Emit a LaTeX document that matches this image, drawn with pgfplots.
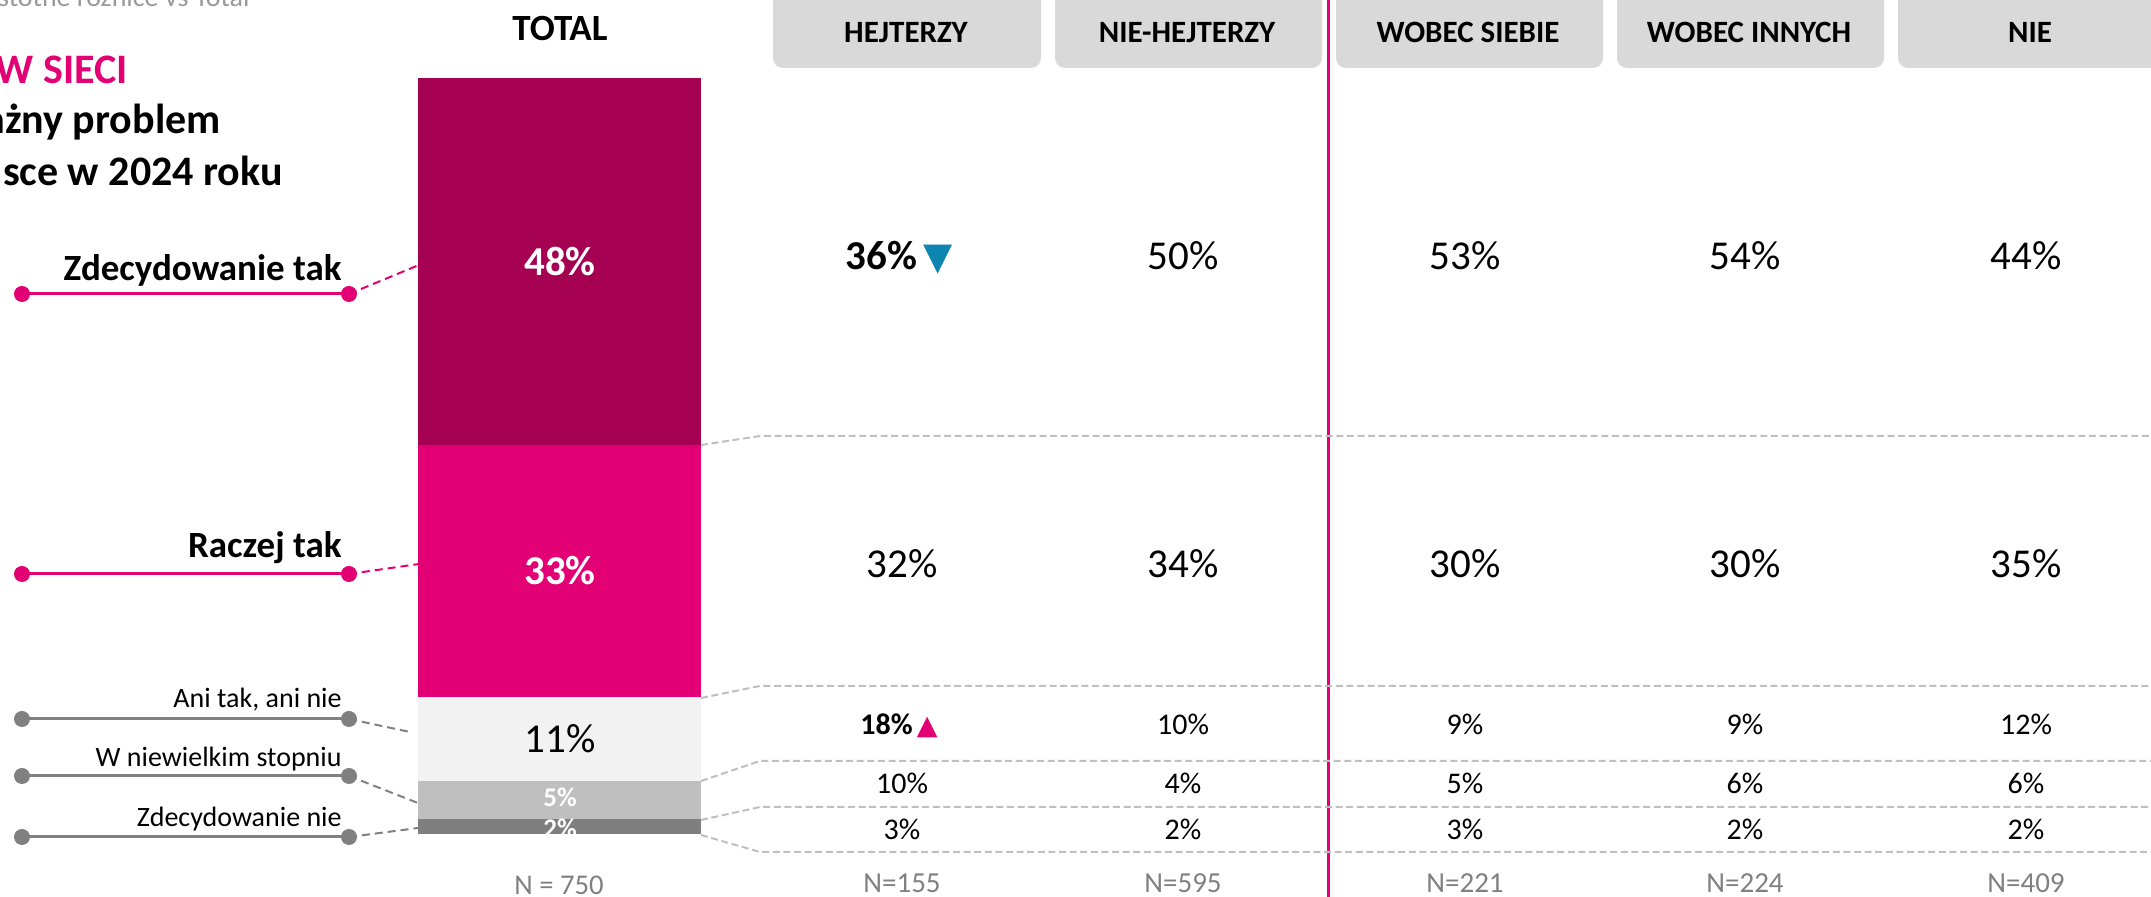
\documentclass[border=0pt]{standalone}
\usepackage{pgfplots}
\pgfplotsset{compat=1.18}
\usepackage{fontspec}
\setmainfont{Carlito}
\newfontfamily\dejavu{DejaVu Sans}
\definecolor{darkmag}{HTML}{A50052}
\definecolor{mag}{HTML}{E20074}
\definecolor{lgray}{HTML}{F2F2F2}
\definecolor{mgray}{HTML}{BFBFBF}
\definecolor{dgray}{HTML}{7F7F7F}
\definecolor{hdr}{HTML}{D9D9D9}
\definecolor{sigblue}{HTML}{0E84B0}
\definecolor{ngray}{HTML}{808080}
\newcommand\fsz[1]{\fontsize{#1}{#1}\selectfont}
\pgfplotsset{
  mycanvas/.style={width=1075.5pt, height=448.5pt, scale only axis, hide axis, clip=false, xmin=0, xmax=2151},
  mytxt/.style={draw=none, mark=none, nodes near coords, point meta=explicit symbolic,
    every node near coord/.append style={anchor=base, inner sep=0pt, outer sep=0pt, #1}},
}
\tikzset{
  hdrbox/.style={fill=hdr, rounded corners=5pt},
  rdash/.style={draw=mgray, line width=1pt, dash pattern=on 3.5pt off 1.8pt},
  ldash/.style={line width=1pt, dash pattern=on 4pt off 2.5pt},
}
\begin{document}
\begin{tikzpicture}
\useasboundingbox (0,0) rectangle (1075.5pt,448.5pt);
\begin{scope}
\clip (0,0) rectangle (1075.5pt,448.5pt);
% ---------------- stacked TOTAL bar (values in %)
\begin{axis}[mycanvas, ymin=-8.25, ymax=109.22, ybar stacked, bar width=283]
\addplot[fill=dgray, draw=none] coordinates {(559.5,2)};
\addplot[fill=mgray, draw=none] coordinates {(559.5,5)};
\addplot[fill=lgray, draw=none] coordinates {(559.5,11)};
\addplot[fill=mag, draw=none] coordinates {(559.5,33)};
\addplot[fill=darkmag, draw=none] coordinates {(559.5,48)};
\end{axis}
% ---------------- everything else, in pixel coordinates
\begin{axis}[mycanvas, ymin=0, ymax=897]
% header boxes
\path[hdrbox] (axis cs:773,829) rectangle (axis cs:1041,930);
\path[hdrbox] (axis cs:1055,829) rectangle (axis cs:1322,930);
\path[hdrbox] (axis cs:1336,829) rectangle (axis cs:1603,930);
\path[hdrbox] (axis cs:1617,829) rectangle (axis cs:1884,930);
\path[hdrbox] (axis cs:1898,829) rectangle (axis cs:2165,930);
\node[anchor=base, font=\bfseries\fsz{15.5}] at (axis cs:906,854) {HEJTERZY};
\node[anchor=base, font=\bfseries\fsz{15.5}] at (axis cs:1187,854) {NIE-HEJTERZY};
\node[anchor=base, font=\bfseries\fsz{15.5}] at (axis cs:1468,854) {WOBEC SIEBIE};
\node[anchor=base, font=\bfseries\fsz{15.5}] at (axis cs:1749,854) {WOBEC INNYCH};
\node[anchor=base, font=\bfseries\fsz{15.5}] at (axis cs:2030,854) {NIE};
\node[anchor=base, font=\bfseries\fsz{18.5}] at (axis cs:560,856) {TOTAL};
% title
\node[anchor=base east, inner sep=0pt, font=\fsz{14}, text=mgray!80!black] at (axis cs:250,890) {{\dejavu ▲▼} Istotne różnice vs Total};
\node[anchor=base east, inner sep=0pt, font=\bfseries\fsz{21}, text=mag] at (axis cs:128,813) {HEJT W SIECI};
\node[anchor=base east, inner sep=0pt, font=\bfseries\fsz{21}] at (axis cs:221,763) {Hejt to ważny problem};
\node[anchor=base east, inner sep=0pt, font=\bfseries\fsz{21}] at (axis cs:283,711) {w Polsce w 2024 roku};
% vertical separator
\draw[mag, line width=1.5pt] (axis cs:1328,0) -- (axis cs:1328,897);
% right dashed guide lines
\draw[rdash] (axis cs:701,452) -- (axis cs:760,461) -- (axis cs:2160,461);
\draw[rdash] (axis cs:701,199) -- (axis cs:760,211) -- (axis cs:2160,211);
\draw[rdash] (axis cs:701,116) -- (axis cs:760,136) -- (axis cs:2160,136);
\draw[rdash] (axis cs:701,77) -- (axis cs:760,90) -- (axis cs:2160,90);
\draw[rdash] (axis cs:701,62) -- (axis cs:760,45) -- (axis cs:2160,45);
% left legend labels
\draw[mag, line width=1.5pt] (axis cs:22,603) -- (axis cs:349,603);
\fill[mag] (axis cs:22,603) circle[radius=4pt] (axis cs:349,603) circle[radius=4pt];
\draw[ldash, mag] (axis cs:349,603) -- (axis cs:419,632);
\node[anchor=base east, inner sep=0pt, font=\bfseries\fsz{18.5}] at (axis cs:342,616) {Zdecydowanie tak};
\draw[mag, line width=1.5pt] (axis cs:22,323) -- (axis cs:349,323);
\fill[mag] (axis cs:22,323) circle[radius=4pt] (axis cs:349,323) circle[radius=4pt];
\draw[ldash, mag] (axis cs:349,323) -- (axis cs:419,333);
\node[anchor=base east, inner sep=0pt, font=\bfseries\fsz{18.5}] at (axis cs:342,339) {Raczej tak};
\draw[ngray, line width=1.5pt] (axis cs:22,178) -- (axis cs:349,178);
\fill[ngray] (axis cs:22,178) circle[radius=4pt] (axis cs:349,178) circle[radius=4pt];
\draw[ldash, ngray] (axis cs:349,178) -- (axis cs:410,165);
\node[anchor=base east, inner sep=0pt, font=\fsz{14}] at (axis cs:342,189) {Ani tak, ani nie};
\draw[ngray, line width=1.5pt] (axis cs:22,121) -- (axis cs:349,121);
\fill[ngray] (axis cs:22,121) circle[radius=4pt] (axis cs:349,121) circle[radius=4pt];
\draw[ldash, ngray] (axis cs:349,121) -- (axis cs:418,94);
\node[anchor=base east, inner sep=0pt, font=\fsz{14}] at (axis cs:342,130) {W niewielkim stopniu};
\draw[ngray, line width=1.5pt] (axis cs:22,60) -- (axis cs:349,60);
\fill[ngray] (axis cs:22,60) circle[radius=4pt] (axis cs:349,60) circle[radius=4pt];
\draw[ldash, ngray] (axis cs:349,60) -- (axis cs:418,69);
\node[anchor=base east, inner sep=0pt, font=\fsz{14}] at (axis cs:342,70) {Zdecydowanie nie};
% labels on the TOTAL bar
\addplot[mytxt={font=\bfseries\fsz{20.5}, text=white}] coordinates {(560,621)[48\%] (560,312)[33\%]};
\addplot[mytxt={font=\fsz{20.5}, text=black}] coordinates {(560,144)[11\%]};
\addplot[mytxt={font=\bfseries\fsz{13.5}, text=white}] coordinates {(560,90)[5\%] (560,59)[2\%]};
\addplot[mytxt={font=\fsz{14.3}, text=ngray}] coordinates {(559,2)[N = 750]};
% group values: Zdecydowanie tak
\addplot[mytxt={font=\fsz{20.5}}] coordinates {(1183,627)[50\%] (1465,627)[53\%] (1745,627)[54\%] (2026,627)[44\%]};
\addplot[mytxt={font=\bfseries\fsz{20.5}}, nodes near coords={\pgfplotspointmeta\%\hspace{3pt}{\dejavu\mdseries\fsz{19}\color{sigblue}▼}}] coordinates {(899,627)[36]};
% Raczej tak
\addplot[mytxt={font=\fsz{20.5}}] coordinates {(902,319)[32\%] (1183,319)[34\%] (1465,319)[30\%] (1745,319)[30\%] (2026,319)[35\%]};
% Ani tak, ani nie
\addplot[mytxt={font=\fsz{15}}] coordinates {(1183,162)[10\%] (1465,162)[9\%] (1745,162)[9\%] (2026,162)[12\%]};
\addplot[mytxt={font=\bfseries\fsz{15}}, nodes near coords={\pgfplotspointmeta\%\hspace{2pt}{\dejavu\mdseries\fsz{13.5}\color{mag}▲}}] coordinates {(899,162)[18]};
% W niewielkim stopniu
\addplot[mytxt={font=\fsz{15}}] coordinates {(902,103)[10\%] (1183,103)[4\%] (1465,103)[5\%] (1745,103)[6\%] (2026,103)[6\%]};
% Zdecydowanie nie
\addplot[mytxt={font=\fsz{15}}] coordinates {(902,57)[3\%] (1183,57)[2\%] (1465,57)[3\%] (1745,57)[2\%] (2026,57)[2\%]};
% sample sizes
\addplot[mytxt={font=\fsz{14.5}, text=ngray}] coordinates {(902,4)[N=155] (1183,4)[N=595] (1465,4)[N=221] (1745,4)[N=224] (2026,4)[N=409]};
\end{axis}
\end{scope}
\end{tikzpicture}
\end{document}
